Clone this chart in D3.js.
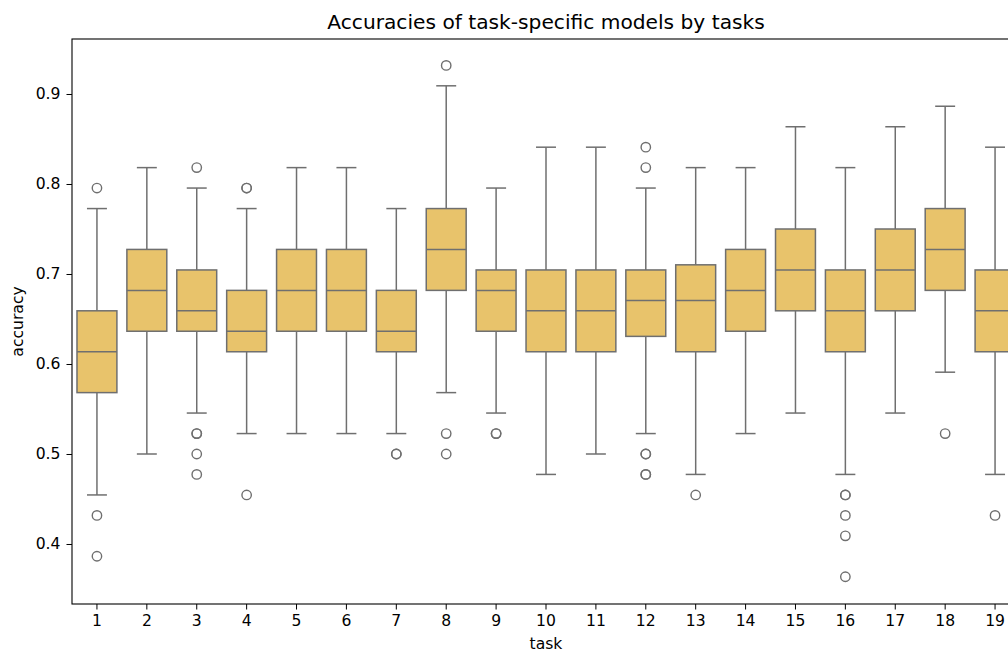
<!DOCTYPE html>
<html>
<head>
<meta charset="utf-8">
<script src="https://cdn.jsdelivr.net/npm/d3@7"></script>
<style>
  html, body { margin: 0; padding: 0; background: #fff; }
  svg { display: block; font-family: "DejaVu Sans", sans-serif; }
</style>
</head>
<body>
<svg id="chart" width="1008" height="653"></svg>
<script>
const tasks = ["1","2","3","4","5","6","7","8","9","10","11","12","13","14","15","16","17","18","19"];
const q1 = [0.5682, 0.6364, 0.6364, 0.6136, 0.6364, 0.6364, 0.6136, 0.6818, 0.6364, 0.6136, 0.6136, 0.6307, 0.6136, 0.6364, 0.6591, 0.6136, 0.6591, 0.6818, 0.6136];
const medians = [0.6136, 0.6818, 0.6591, 0.6364, 0.6818, 0.6818, 0.6364, 0.7273, 0.6818, 0.6591, 0.6591, 0.6705, 0.6705, 0.6818, 0.7045, 0.6591, 0.7045, 0.7273, 0.6591];
const q3 = [0.6591, 0.7273, 0.7045, 0.6818, 0.7273, 0.7273, 0.6818, 0.7727, 0.7045, 0.7045, 0.7045, 0.7045, 0.7102, 0.7273, 0.75, 0.7045, 0.75, 0.7727, 0.7045];
const whiskerLow = [0.4545, 0.5, 0.5455, 0.5227, 0.5227, 0.5227, 0.5227, 0.5682, 0.5455, 0.4773, 0.5, 0.5227, 0.4773, 0.5227, 0.5455, 0.4773, 0.5455, 0.5909, 0.4773];
const whiskerHigh = [0.7727, 0.8182, 0.7955, 0.7727, 0.8182, 0.8182, 0.7727, 0.9091, 0.7955, 0.8409, 0.8409, 0.7955, 0.8182, 0.8182, 0.8636, 0.8182, 0.8636, 0.8864, 0.8409];
const outliers = [
  [0.7955, 0.4318, 0.3864],
  [],
  [0.8182, 0.5227, 0.5227, 0.5, 0.4773],
  [0.7955, 0.7955, 0.4545],
  [],
  [],
  [0.5, 0.5],
  [0.9318, 0.5227, 0.5],
  [0.5227, 0.5227],
  [],
  [],
  [0.8409, 0.8182, 0.5, 0.5, 0.4773, 0.4773],
  [0.4545],
  [],
  [],
  [0.4545, 0.4545, 0.4318, 0.4091, 0.3636],
  [],
  [0.5227],
  [0.4318]
];
const yTicks = [0.4, 0.5, 0.6, 0.7, 0.8, 0.9];

const svg = d3.select("#chart");
const L = 72, R = 1020, T = 39, B = 604;
const fill = "#e8c36b", line = "#6f6f6f";

const x = d3.scaleBand().domain(tasks).range([L, R]).paddingInner(0.2).paddingOuter(0.1);
const y = d3.scaleLinear().domain([0.33333, 0.96111]).range([B, T]);
const bw = x.bandwidth();

const g = svg.append("g");
tasks.forEach((t, i) => {
  const cx = x(t) + bw / 2;
  const gg = g.append("g");
  gg.append("line").attr("x1", cx).attr("x2", cx).attr("y1", y(q3[i])).attr("y2", y(whiskerHigh[i]))
    .attr("stroke", line).attr("stroke-width", 1.5);
  gg.append("line").attr("x1", cx).attr("x2", cx).attr("y1", y(q1[i])).attr("y2", y(whiskerLow[i]))
    .attr("stroke", line).attr("stroke-width", 1.5);
  [whiskerHigh[i], whiskerLow[i]].forEach(v => {
    gg.append("line").attr("x1", cx - bw / 4).attr("x2", cx + bw / 4).attr("y1", y(v)).attr("y2", y(v))
      .attr("stroke", line).attr("stroke-width", 1.5);
  });
  gg.append("rect").attr("x", x(t)).attr("width", bw)
    .attr("y", y(q3[i])).attr("height", y(q1[i]) - y(q3[i]))
    .attr("fill", fill).attr("stroke", line).attr("stroke-width", 1.5);
  gg.append("line").attr("x1", x(t)).attr("x2", x(t) + bw).attr("y1", y(medians[i])).attr("y2", y(medians[i]))
    .attr("stroke", line).attr("stroke-width", 1.5);
  gg.selectAll("circle").data(outliers[i]).enter().append("circle")
    .attr("cx", cx).attr("cy", d => y(d)).attr("r", 4.7)
    .attr("fill", "none").attr("stroke", line).attr("stroke-width", 1.4);
});

const xAxis = d3.axisBottom(x).tickSize(5.5).tickPadding(5);
const yAxis = d3.axisLeft(y).tickValues(yTicks).tickFormat(d3.format(".1f")).tickSize(5.5).tickPadding(6);

const gx = svg.append("g").attr("transform", `translate(0,${B})`).call(xAxis);
const gy = svg.append("g").attr("transform", `translate(${L},0)`).call(yAxis);
[gx, gy].forEach(a => {
  a.select(".domain").remove();
  a.selectAll(".tick line").attr("stroke", "#000").attr("stroke-width", 1);
  a.selectAll(".tick text").attr("fill", "#000").style("font-size", "15.6px").style("font-family", "DejaVu Sans, sans-serif");
});

svg.append("rect").attr("x", L).attr("y", T).attr("width", R - L).attr("height", B - T)
  .attr("fill", "none").attr("stroke", "#000").attr("stroke-width", 1.1);

svg.append("text").attr("x", (L + R) / 2).attr("y", 29).attr("text-anchor", "middle")
  .style("font-size", "20.2px").attr("fill", "#000").text("Accuracies of task-specific models by tasks");
svg.append("text").attr("x", (L + R) / 2).attr("y", 649).attr("text-anchor", "middle")
  .style("font-size", "15.6px").attr("fill", "#000").text("task");
svg.append("text").attr("transform", `translate(23,${(T + B) / 2}) rotate(-90)`).attr("text-anchor", "middle")
  .style("font-size", "15.6px").attr("fill", "#000").text("accuracy");
</script>
</body>
</html>
